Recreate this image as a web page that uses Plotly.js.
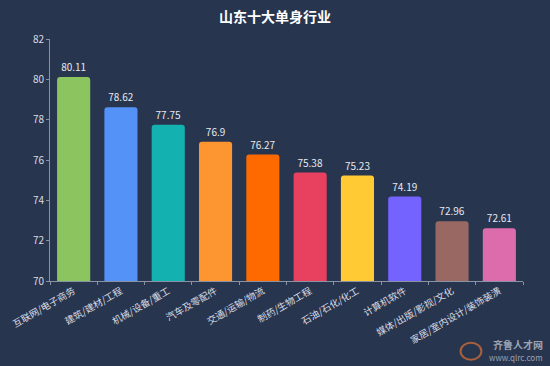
<!DOCTYPE html>
<html>
<head>
<meta charset="utf-8">
<script src="https://cdn.plot.ly/plotly-3.0.1.min.js"></script>
<style>html,body{margin:0;padding:0;background:#28354f;}#chart{width:550px;height:366px;}</style>
</head>
<body>
<div id="chart"></div>
<script>
var categories = ["互联网/电子商务","建筑/建材/工程","机械/设备/重工","汽车及零配件","交通/运输/物流","制药/生物工程","石油/石化/化工","计算机软件","媒体/出版/影视/文化","家居/室内设计/装饰装潢"];
var values = [80.11, 78.62, 77.75, 76.9, 76.27, 75.38, 75.23, 74.19, 72.96, 72.61];
var valueLabels = ["80.11","78.62","77.75","76.9","76.27","75.38","75.23","74.19","72.96","72.61"];
var colors = ["#8cc460","#5592f7","#13b2b0","#fd9530","#ff6a00","#e8405f","#ffca33","#7563ff","#9a6862","#dd6cad"];
var yTicks = [70,72,74,76,78,80,82];

var font = "'Noto Sans CJK SC', 'Noto Sans', sans-serif";
var trace = {
  type: "bar",
  x: categories,
  y: values,
  text: valueLabels,
  textposition: "outside",
  cliponaxis: false,
  textfont: {color: "#e6e9ee", size: 10, family: font},
  marker: {color: colors, cornerradius: 3},
  hoverinfo: "x+y"
};

var layout = {
  width: 550, height: 366,
  paper_bgcolor: "#28354f",
  plot_bgcolor: "#28354f",
  margin: {l: 50, r: 27, t: 39, b: 85, pad: 0},
  bargap: 0.3,
  showlegend: false,
  title: {text: "<b>山东十大单身行业</b>", x: 0.5, xanchor: "center", y: 0.953, yanchor: "middle",
          font: {family: font, size: 14, color: "#ffffff"}},
  xaxis: {
    type: "category",
    showgrid: false, zeroline: false,
    showline: true, linecolor: "#8a93a3", linewidth: 1,
    ticks: "outside", ticklen: 3, tickcolor: "#8a93a3", tickson: "boundaries",
    tickangle: -30,
    tickfont: {family: font, size: 9.5, color: "#d8dce3"}
  },
  yaxis: {
    range: [70, 82],
    tickvals: yTicks,
    ticktext: yTicks.map(String),
    showgrid: false, zeroline: false,
    showline: true, linecolor: "#8a93a3", linewidth: 1,
    ticks: "outside", ticklen: 3, tickcolor: "#8a93a3",
    tickfont: {family: font, size: 10, color: "#d8dce3"}
  },
  shapes: [
    {type: "circle", xref: "paper", yref: "paper", x0: 0.868, x1: 0.912, y0: -0.255, y1: -0.325,
     line: {color: "#a8613a", width: 2}, fillcolor: "rgba(0,0,0,0)"}
  ],
  annotations: [
    {xref: "paper", yref: "paper", x: 1.0465, y: -0.262, xanchor: "right", yanchor: "middle",
     text: "<b>齐鲁人才网</b>", showarrow: false, font: {family: font, size: 10, color: "#9aa3b3"}},
    {xref: "paper", yref: "paper", x: 1.0465, y: -0.318, xanchor: "right", yanchor: "middle",
     text: "www.qlrc.com", showarrow: false, font: {family: font, size: 8, color: "#9aa3b3"}}
  ]
};

Plotly.newPlot("chart", [trace], layout, {displayModeBar: false, staticPlot: true});
</script>
</body>
</html>
